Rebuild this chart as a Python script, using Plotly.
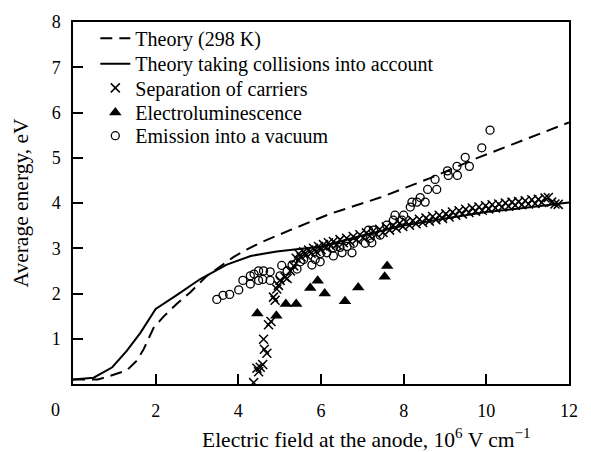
import plotly.graph_objects as go

# Theory (298 K), dashed curve
theory_x = [0.0, 0.6, 0.8, 1.05, 1.3, 1.55, 1.71, 1.95, 2.19, 2.52, 2.84, 3.24, 3.56, 3.89,
            4.2, 4.6, 5.25, 6.22, 7.43, 8.64, 9.85, 12.0]
theory_y = [0.10, 0.10, 0.15, 0.22, 0.30, 0.52, 0.77, 1.24, 1.49, 1.78, 2.03, 2.39, 2.60, 2.81,
            2.97, 3.15, 3.40, 3.76, 4.12, 4.55, 5.02, 5.78]

# Theory taking collisions into account, solid curve
coll_x = [0.0, 0.5, 0.95, 1.3, 1.63, 2.0, 2.5, 3.08, 3.72, 4.3, 4.93, 5.5, 6.0, 7.0, 8.0,
          9.0, 10.0, 11.0, 12.0]
coll_y = [0.10, 0.14, 0.37, 0.73, 1.13, 1.66, 1.96, 2.32, 2.64, 2.83, 2.93, 2.98, 3.04, 3.28,
          3.50, 3.66, 3.80, 3.90, 4.01]

# Separation of carriers
sep_x = [4.37, 4.45, 4.49, 4.53, 4.59, 4.61, 4.63, 4.69, 4.73, 4.79, 4.85, 4.89, 4.93, 4.97,
         5.01, 5.13, 5.18, 5.26, 5.34,
         5.40, 5.46, 5.52, 5.58, 5.64, 5.70, 5.76, 5.82, 5.88, 5.94, 6.00, 6.06, 6.12, 6.18,
         6.24, 6.30, 6.38, 6.46, 6.54, 6.62, 6.70, 6.78, 6.86, 6.94, 7.02, 7.10, 7.18, 7.26,
         7.34, 7.42, 7.50, 7.58, 7.66, 7.74, 7.82, 7.90, 7.98, 8.06, 8.14, 8.22, 8.30, 8.38,
         8.46, 8.54, 8.62, 8.70, 8.78, 8.86, 8.94, 9.02, 9.10, 9.18, 9.26, 9.34, 9.42, 9.50,
         9.58, 9.66, 9.74, 9.82, 9.90, 9.98, 10.06, 10.14, 10.22, 10.30, 10.38, 10.46, 10.54,
         10.62, 10.70, 10.78, 10.86, 10.94, 11.02, 11.10, 11.18, 11.26, 11.34, 11.42, 11.50,
         11.58, 11.66, 11.74]
sep_y = [0.03, 0.35, 0.27, 0.37, 0.43, 0.99, 0.77, 0.68, 1.31, 1.38, 1.92, 1.85, 2.10, 2.18,
         2.29, 2.36, 2.33, 2.50, 2.61,
         2.78, 2.88, 2.81, 2.92, 2.85, 2.96, 2.89, 3.00, 2.93, 3.04, 2.97, 3.08, 3.01, 3.12,
         3.05, 3.15, 3.08, 3.19, 3.12, 3.22, 3.15, 3.26, 3.19, 3.30, 3.23, 3.34, 3.27, 3.38,
         3.31, 3.42, 3.35, 3.47, 3.40, 3.51, 3.44, 3.55, 3.48, 3.58, 3.51, 3.61, 3.54, 3.64,
         3.57, 3.67, 3.60, 3.70, 3.63, 3.73, 3.66, 3.76, 3.69, 3.80, 3.73, 3.83, 3.76, 3.86,
         3.79, 3.89, 3.82, 3.91, 3.84, 3.94, 3.87, 3.96, 3.89, 3.98, 3.91, 4.00, 3.93,
         4.02, 3.95, 4.03, 3.96, 4.05, 3.98, 4.07, 3.99, 4.08, 4.01, 4.11, 4.12,
         4.02, 3.98, 3.97]

# Electroluminescence
el_x = [4.46, 4.92, 5.15, 5.40, 5.74, 5.92, 6.09, 6.58, 6.90, 7.54, 7.60]
el_y = [1.56, 1.51, 1.77, 1.77, 2.12, 2.28, 2.00, 1.83, 2.13, 2.37, 2.61]

# Emission into a vacuum
vac_x = [3.48, 3.63, 3.79, 4.01, 4.11, 4.29, 4.29, 4.38, 4.49, 4.61, 4.77, 4.49, 4.59, 4.77,
         5.01, 5.05, 5.18, 5.30, 5.42, 5.50, 5.58, 5.78, 5.86, 5.98, 5.98, 6.14, 6.30, 6.30,
         6.46, 6.51, 6.63, 6.75, 6.79, 7.07, 7.15, 7.19, 7.23, 7.27, 7.43, 7.59, 7.75, 7.79,
         7.96, 8.00, 8.16, 8.20, 8.32, 8.40, 8.52, 8.58, 8.80, 8.76, 9.06, 9.08, 9.29, 9.30,
         9.49, 9.59, 9.89, 10.09]
vac_y = [1.87, 1.96, 1.98, 2.08, 2.29, 2.21, 2.39, 2.43, 2.50, 2.50, 2.48, 2.29, 2.31, 2.29,
         2.39, 2.62, 2.50, 2.63, 2.54, 2.70, 2.75, 2.63, 2.75, 2.70, 2.88, 2.90, 2.83, 3.01,
         3.02, 2.90, 3.04, 2.90, 3.11, 3.11, 3.40, 3.22, 3.12, 3.40, 3.29, 3.51, 3.62, 3.73,
         3.62, 3.73, 3.91, 4.02, 4.02, 4.12, 4.02, 4.30, 4.30, 4.52, 4.71, 4.61, 4.81, 4.61,
         5.01, 4.81, 5.22, 5.61]

x_ticks = [2, 4, 6, 8, 10, 12]
y_ticks = [1, 2, 3, 4, 5, 6, 7, 8]

FONT = "'Liberation Serif'"

fig = go.Figure()
fig.add_trace(go.Scatter(x=theory_x, y=theory_y, mode="lines", name="Theory (298 K)",
                         legend="legend",
                         line=dict(color="black", width=2, dash="12px,7px")))
fig.add_trace(go.Scatter(x=coll_x, y=coll_y, mode="lines",
                         name="Theory taking collisions into account", legend="legend2",
                         line=dict(color="black", width=2)))
fig.add_trace(go.Scatter(x=sep_x, y=sep_y, mode="markers", name="Separation of carriers",
                         legend="legend3",
                         marker=dict(symbol="x-thin-open", size=9, color="black",
                                     line=dict(color="black", width=1.5))))
fig.add_trace(go.Scatter(x=el_x, y=el_y, mode="markers", name="Electroluminescence",
                         legend="legend4",
                         marker=dict(symbol="triangle-up", size=11, color="black")))
fig.add_trace(go.Scatter(x=vac_x, y=vac_y, mode="markers", name="Emission into a vacuum",
                         legend="legend5",
                         marker=dict(symbol="circle-open", size=8, color="black",
                                     line=dict(color="black", width=1.3))))

# one single-entry legend per row so the rows sit at the chosen heights
legend_rows = {"legend": 0.955, "legend2": 0.885, "legend3": 0.818,
               "legend4": 0.750, "legend5": 0.686}
legend_layout = {
    key: dict(x=0.045, y=yv, xanchor="left", yanchor="middle",
              bgcolor="rgba(0,0,0,0)", font=dict(family=FONT, size=20, color="black"))
    for key, yv in legend_rows.items()
}

fig.update_layout(
    width=591, height=452,
    margin=dict(l=73, r=22, t=13, b=68),
    paper_bgcolor="white", plot_bgcolor="white",
    font=dict(family=FONT, size=18, color="black"),
    showlegend=True,
    xaxis=dict(range=[0, 12], tickvals=x_ticks, ticktext=[str(v) for v in x_ticks],
               ticks="inside", ticklen=10, tickwidth=1.5, tickcolor="black",
               showline=True, linecolor="black", linewidth=1.5, mirror=True,
               showgrid=False, zeroline=False, ticklabelstandoff=10,
               tickfont=dict(family=FONT, size=18)),
    yaxis=dict(range=[0, 8], tickvals=y_ticks, ticktext=[str(v) for v in y_ticks],
               ticks="inside", ticklen=10, tickwidth=1.5, tickcolor="black",
               showline=True, linecolor="black", linewidth=1.5, mirror=True,
               showgrid=False, zeroline=False, ticklabelstandoff=7,
               tickfont=dict(family=FONT, size=18),
               title=dict(text="Average energy, eV", standoff=17,
                          font=dict(family=FONT, size=21.5))),
    **legend_layout,
)

# x-axis title, set slightly right of the plot centre
fig.add_annotation(x=0.59, y=0, xref="paper", yref="paper", yanchor="middle",
                   text="Electric field at the anode, 10<sup>6</sup> V cm<sup>\u22121</sup>",
                   showarrow=False, yshift=-54, font=dict(family=FONT, size=21.5))

# shared origin label below the axes corner
fig.add_annotation(x=0, y=0, xref="x", yref="y", text="0", showarrow=False,
                   xshift=-18, yshift=-26, font=dict(family=FONT, size=18))

fig.write_html("out.html")
